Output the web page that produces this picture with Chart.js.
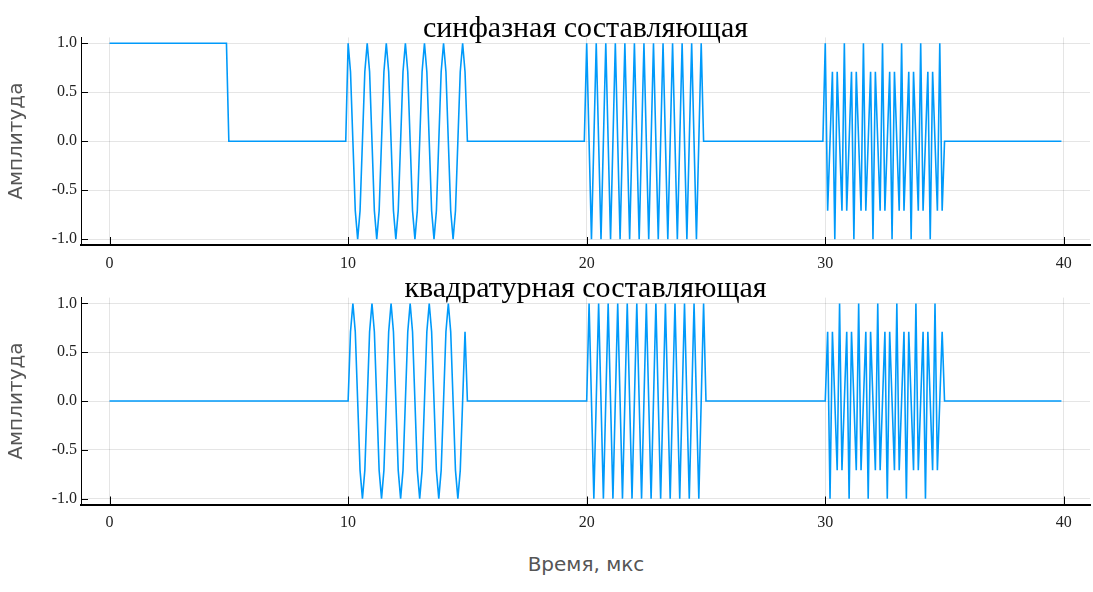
<!DOCTYPE html>
<html>
<head>
<meta charset="utf-8">
<script src="https://cdn.jsdelivr.net/npm/chart.js@4"></script>
<style>
  html, body { margin: 0; padding: 0; background: #fff; }
  body { width: 1093px; height: 592px; position: relative; overflow: hidden; }
  canvas { position: absolute; left: 0; }
  #xlabel { position: absolute; left: 0; width: 1172px; top: 552px; text-align: center;
            font: 20px "DejaVu Sans", sans-serif; color: #555; }
</style>
</head>
<body>
<canvas id="cI" width="1093" height="272" style="top:0px"></canvas>
<canvas id="cQ" width="1093" height="262" style="top:272px"></canvas>
<div id="xlabel">Время, мкс</div>
<script>
// ---- data ----
const sampleStep = 0.1;          // µs between samples
const burstStarts = [0, 10, 20, 30];   // µs, each burst lasts 5 µs (50 samples)
const samplesPerBurst = 50;
const lastSampleIndex = 399;     // samples 0 … 39.9 µs

const iBurst0 = [1,1,1,1,1,1,1,1,1,1, 1,1,1,1,1,1,1,1,1,1, 1,1,1,1,1,1,1,1,1,1, 1,1,1,1,1,1,1,1,1,1, 1,1,1,1,1,1,1,1,1,1];
const qBurst0 = [0,0,0,0,0,0,0,0,0,0, 0,0,0,0,0,0,0,0,0,0, 0,0,0,0,0,0,0,0,0,0, 0,0,0,0,0,0,0,0,0,0, 0,0,0,0,0,0,0,0,0,0];

const iBurst1 = [1,0.71,0,-0.71,-1,-0.71,0,0.71, 1,0.71,0,-0.71,-1,-0.71,0,0.71, 1,0.71,0,-0.71,-1,-0.71,0,0.71,
                 1,0.71,0,-0.71,-1,-0.71,0,0.71, 1,0.71,0,-0.71,-1,-0.71,0,0.71, 1,0.71,0,-0.71,-1,-0.71,0,0.71, 1,0.71];
const qBurst1 = [0,0.71,1,0.71,0,-0.71,-1,-0.71, 0,0.71,1,0.71,0,-0.71,-1,-0.71, 0,0.71,1,0.71,0,-0.71,-1,-0.71,
                 0,0.71,1,0.71,0,-0.71,-1,-0.71, 0,0.71,1,0.71,0,-0.71,-1,-0.71, 0,0.71,1,0.71,0,-0.71,-1,-0.71, 0,0.71];

const iBurst2 = [1,0,-1,0, 1,0,-1,0, 1,0,-1,0, 1,0,-1,0, 1,0,-1,0, 1,0,-1,0, 1,0,-1,0, 1,0,-1,0, 1,0,-1,0, 1,0,-1,0, 1,0,-1,0, 1,0,-1,0, 1,0];
const qBurst2 = [0,1,0,-1, 0,1,0,-1, 0,1,0,-1, 0,1,0,-1, 0,1,0,-1, 0,1,0,-1, 0,1,0,-1, 0,1,0,-1, 0,1,0,-1, 0,1,0,-1, 0,1,0,-1, 0,1,0,-1, 0,1];

const iBurst3 = [1,-0.71,0,0.71,-1,0.71,0,-0.71, 1,-0.71,0,0.71,-1,0.71,0,-0.71, 1,-0.71,0,0.71,-1,0.71,0,-0.71,
                 1,-0.71,0,0.71,-1,0.71,0,-0.71, 1,-0.71,0,0.71,-1,0.71,0,-0.71, 1,-0.71,0,0.71,-1,0.71,0,-0.71, 1,-0.71];
const qBurst3 = [0,0.71,-1,0.71,0,-0.71,1,-0.71, 0,0.71,-1,0.71,0,-0.71,1,-0.71, 0,0.71,-1,0.71,0,-0.71,1,-0.71,
                 0,0.71,-1,0.71,0,-0.71,1,-0.71, 0,0.71,-1,0.71,0,-0.71,1,-0.71, 0,0.71,-1,0.71,0,-0.71,1,-0.71, 0,0.71];

const gapLevel = 0;   // value between bursts

const iBursts = [iBurst0, iBurst1, iBurst2, iBurst3];
const qBursts = [qBurst0, qBurst1, qBurst2, qBurst3];

const xTickValues = [0, 10, 20, 30, 40];
const xTickLabels = ['0', '10', '20', '30', '40'];
const yTickValues = [-1, -0.5, 0, 0.5, 1];
const yTickLabels = ['-1.0', '-0.5', '0.0', '0.5', '1.0'];

const titleI = 'синфазная составляющая';
const titleQ = 'квадратурная составляющая';
const yTitle = 'Амплитуда';

// ---- assemble samples ----
function buildSeries(bursts) {
  const pts = [];
  for (let k = 0; k <= lastSampleIndex; k++) {
    const t = +(k * sampleStep).toFixed(1);
    let v = gapLevel;
    for (let b = 0; b < burstStarts.length; b++) {
      const idx = k - Math.round(burstStarts[b] / sampleStep);
      if (idx >= 0 && idx < samplesPerBurst) { v = bursts[b][idx]; break; }
    }
    pts.push({ x: t, y: v });
  }
  return pts;
}

const xSpan = lastSampleIndex * sampleStep;
const xMin = -0.03 * xSpan, xMax = xSpan * 1.03;
const yMin = -1.06, yMax = 1.06;

const decor = {
  id: 'decor',
  afterDraw(chart, args, opts) {
    const ctx = chart.ctx;
    const ca = chart.chartArea;
    const xs = chart.scales.x, ys = chart.scales.y;
    ctx.save();
    ctx.strokeStyle = '#000';
    ctx.lineWidth = 1;
    ctx.beginPath();
    xTickValues.forEach(v => {
      const px = Math.round(xs.getPixelForValue(v)) + 0.5;
      ctx.moveTo(px, ca.bottom); ctx.lineTo(px, ca.bottom - 8);
    });
    yTickValues.forEach(v => {
      const py = Math.round(ys.getPixelForValue(v)) + 0.5;
      ctx.moveTo(ca.left, py); ctx.lineTo(ca.left + 7, py);
    });
    ctx.stroke();
    // title
    ctx.fillStyle = '#000';
    ctx.font = '30px "Liberation Serif", serif';
    ctx.textAlign = 'center';
    ctx.textBaseline = 'alphabetic';
    ctx.fillText(opts.title, (ca.left + ca.right) / 2, opts.titleBaseline);
    // y title
    ctx.translate(17, (ca.top + ca.bottom) / 2);
    ctx.rotate(-Math.PI / 2);
    ctx.font = '20px "DejaVu Sans", sans-serif';
    ctx.fillStyle = '#555';
    ctx.textBaseline = 'middle';
    ctx.fillText(yTitle, 0, 0);
    ctx.restore();
  }
};

function makeChart(id, bursts, title, padTop, xAxisHeight, titleBaseline) {
  return new Chart(document.getElementById(id), {
    type: 'line',
    data: {
      datasets: [{
        data: buildSeries(bursts),
        borderColor: '#009AFA',
        borderWidth: 1.6,
        pointRadius: 0,
        tension: 0,
        fill: false
      }]
    },
    options: {
      responsive: false,
      animation: false,
      events: [],
      layout: { padding: { top: padTop, right: 3, left: 0, bottom: 0 } },
      plugins: {
        legend: { display: false },
        tooltip: { enabled: false },
        decor: { title: title, titleBaseline: titleBaseline }
      },
      scales: {
        x: {
          type: 'linear', min: xMin, max: xMax,
          afterBuildTicks: s => { s.ticks = xTickValues.map(v => ({ value: v })); },
          afterFit: s => { s.height = xAxisHeight; },
          grid: { color: 'rgba(0,0,0,0.1)', lineWidth: 1, drawTicks: false },
          border: { display: true, color: '#000', width: 2 },
          ticks: {
            padding: 9, autoSkip: false, maxRotation: 0,
            color: '#222',
            font: { family: '"Liberation Serif", serif', size: 16 },
            callback: (v) => xTickLabels[xTickValues.indexOf(v)]
          }
        },
        y: {
          type: 'linear', min: yMin, max: yMax,
          afterBuildTicks: s => { s.ticks = yTickValues.map(v => ({ value: v })); },
          afterFit: s => { s.width = 81; },
          grid: { color: 'rgba(0,0,0,0.1)', lineWidth: 1, drawTicks: false },
          border: { display: true, color: '#000', width: 1 },
          ticks: {
            padding: 4, autoSkip: false,
            color: '#222',
            font: { family: '"Liberation Serif", serif', size: 16 },
            callback: (v) => yTickLabels[yTickValues.indexOf(v)]
          }
        }
      }
    },
    plugins: [decor]
  });
}

makeChart('cI', iBursts, titleI, 37.4, 27, 37);
makeChart('cQ', qBursts, titleQ, 25.6, 29.5, 25);
</script>
</body>
</html>
